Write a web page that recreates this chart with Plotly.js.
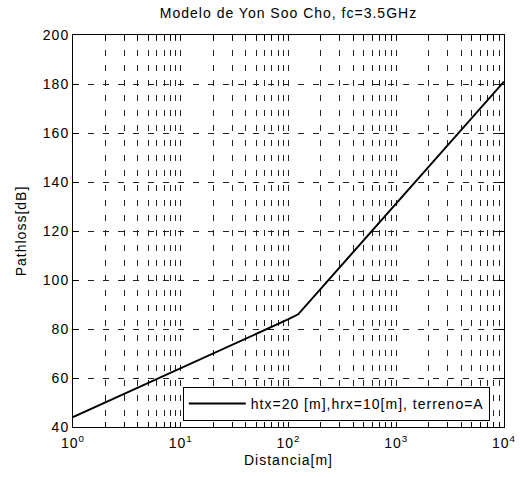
<!DOCTYPE html>
<html>
<head>
<meta charset="utf-8">
<script src="https://cdn.plot.ly/plotly-3.0.1.min.js"></script>
<style>
html,body{margin:0;padding:0;background:#fff;}
#chart{width:520px;height:477px;}
text{letter-spacing:1px;}
</style>
</head>
<body>
<div id="chart"></div>
<script>
// Data
var distance = [1, 2, 5, 10, 20, 50, 100, 123, 200, 500, 1000, 2000, 5000, 10000];
var pathloss = [44, 50, 58, 64, 70, 78, 84, 86, 96.5, 116.5, 131.5, 146.5, 166, 181];
var seriesName = "htx=20 [m],hrx=10[m], terreno=A";

// Axis ticks
var xTickVals = [1, 10, 100, 1000, 10000];
var xTickText = ["10<sup>0</sup>", "10<sup>1</sup>", "10<sup>2</sup>", "10<sup>3</sup>", "10<sup>4</sup>"];
var minorDigits = [2, 3, 4, 5, 6, 7, 8, 9];
var yTickVals = [40, 60, 80, 100, 120, 140, 160, 180, 200];

var xMinorVals = [];
xTickVals.slice(0, -1).forEach(function (d) {
  minorDigits.forEach(function (k) { xMinorVals.push(d * k); });
});

var font = {family: "Liberation Sans, Arial, sans-serif", size: 14, color: "#000"};
var gridDash = "6px,9px";

var trace = {
  x: distance,
  y: pathloss,
  type: "scatter",
  mode: "lines",
  name: seriesName,
  line: {color: "#000", width: 2},
  showlegend: true
};

var layout = {
  width: 520,
  height: 477,
  margin: {l: 73, r: 16, t: 35, b: 50},
  paper_bgcolor: "#fff",
  plot_bgcolor: "#fff",
  font: font,
  showlegend: true,
  title: {
    text: "Modelo de Yon Soo Cho, fc=3.5GHz",
    font: font,
    x: 0.5, xref: "paper", xanchor: "center",
    y: 1 - 13 / 477, yref: "container", yanchor: "middle"
  },
  xaxis: {
    type: "log",
    range: [0, 4],
    tickmode: "array",
    tickvals: xTickVals,
    ticktext: xTickText,
    ticks: "inside",
    ticklen: 5,
    tickwidth: 1,
    tickcolor: "#000",
    ticklabelstandoff: 3,
    minor: {
      tickmode: "array",
      tickvals: xMinorVals,
      ticks: "inside",
      ticklen: 5,
      tickwidth: 1,
      tickcolor: "#000",
      showgrid: true,
      gridcolor: "#222",
      gridwidth: 1,
      griddash: gridDash
    },
    showline: true,
    linecolor: "#000",
    linewidth: 1,
    mirror: "ticks",
    showgrid: true,
    gridcolor: "#222",
    gridwidth: 1,
    griddash: gridDash,
    zeroline: false,
    tickfont: font,
    automargin: false,
    title: {text: "Distancia[m]", font: font, standoff: 5}
  },
  yaxis: {
    range: [40, 200],
    tickmode: "array",
    tickvals: yTickVals,
    ticks: "inside",
    ticklen: 5,
    tickwidth: 1,
    tickcolor: "#000",
    showline: true,
    linecolor: "#000",
    linewidth: 1,
    mirror: "ticks",
    showgrid: true,
    gridcolor: "#222",
    gridwidth: 1,
    griddash: gridDash,
    zeroline: false,
    tickfont: font,
    automargin: false,
    title: {text: "Pathloss[dB]", font: font, standoff: 12}
  },
  legend: {
    x: 0.967, xanchor: "right",
    y: 0.0153, yanchor: "bottom",
    bgcolor: "#fff",
    bordercolor: "#000",
    borderwidth: 1,
    font: font,
    itemwidth: 57
  }
};

Plotly.newPlot("chart", [trace], layout, {staticPlot: true, displayModeBar: false});
</script>
</body>
</html>
